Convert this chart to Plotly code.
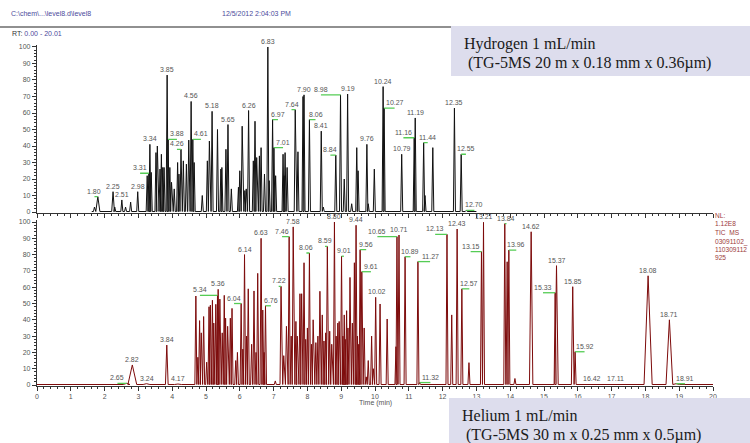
import plotly.graph_objects as go

# ---------------- DATA ----------------
# Hydrogen (top) chromatogram: retention time (min) and relative abundance (%)
top_rt = [1.70, 1.80, 2.25, 2.30, 2.51, 2.62, 2.77, 2.98, 3.26, 3.31, 3.34, 3.38, 3.52, 3.56, 3.64,
          3.68, 3.72, 3.76, 3.85, 3.88, 3.93, 3.98, 4.06, 4.16, 4.20, 4.26, 4.33, 4.42, 4.49, 4.56,
          4.61, 4.65, 4.89, 5.04, 5.10, 5.18, 5.34, 5.44, 5.47, 5.59, 5.65, 5.75, 5.96, 6.00, 6.07,
          6.15, 6.19, 6.26, 6.40, 6.45, 6.50, 6.58, 6.63, 6.73, 6.83, 6.87, 6.97, 7.01, 7.06, 7.28,
          7.31, 7.34, 7.40, 7.64, 7.72, 7.87, 7.90, 8.06, 8.41, 8.47, 8.84, 8.98, 9.09, 9.19, 9.31,
          9.46, 9.50, 9.76, 9.80, 9.98, 10.24, 10.27, 10.79, 11.16, 11.19, 11.44, 11.48, 11.71, 12.35,
          12.55, 12.70]
top_h = [3, 9.3, 12.3, 3, 7.3, 3, 6, 12.3, 22, 23.5, 41, 24, 36, 40, 26,
         35, 27, 27, 83, 44, 27, 18, 14, 30, 23, 38, 31, 29, 43.6, 67,
         44, 30, 10, 31, 43, 61, 50, 26, 27, 38, 53, 14, 15, 25, 52,
         13, 14, 61.5, 31, 55, 33, 34, 39, 23, 100, 19, 56, 39, 22, 35,
         22, 36, 27, 62, 36.5, 70, 71, 56, 49, 3, 34.5, 71, 20, 71.5, 5,
         39, 25, 41, 5, 26, 76, 63, 35, 45, 57, 42, 10, 39, 63,
         35, 1]
top_scan = [1.62, 13.0]

# Helium (bottom) chromatogram
bot_rt = [2.65, 2.82, 3.24, 3.84, 4.17, 4.70, 4.76, 4.81, 4.86, 4.93, 5.02, 5.09, 5.13, 5.19, 5.23,
          5.29, 5.34, 5.36, 5.41, 5.48, 5.54, 5.58, 5.64, 5.72, 5.77, 5.88, 5.93, 6.04, 6.09, 6.14,
          6.20, 6.25, 6.35, 6.42, 6.48, 6.53, 6.63, 6.68, 6.72, 6.76, 7.05, 7.22, 7.30, 7.38, 7.46,
          7.52, 7.58, 7.66, 7.70, 7.78, 7.83, 7.90, 7.95, 8.00, 8.06, 8.12, 8.17, 8.25, 8.31, 8.37,
          8.44, 8.49, 8.54, 8.59, 8.66, 8.72, 8.80, 8.85, 8.90, 8.94, 9.01, 9.05, 9.09, 9.12, 9.16,
          9.20, 9.26, 9.33, 9.39, 9.44, 9.48, 9.52, 9.56, 9.61, 9.68, 9.74, 9.80, 9.90, 9.95, 10.02,
          10.15, 10.36, 10.62, 10.65, 10.71, 10.89, 11.27, 11.32, 12.13, 12.27, 12.43, 12.57, 12.78,
          13.15, 13.21, 13.84, 13.91, 13.96, 14.14, 14.62, 15.33, 15.37, 15.85, 15.92, 16.42, 17.11,
          18.08, 18.71, 18.91]
bot_h = [1, 12.3, 0.8, 24.5, 0.6, 54.6, 17, 39.5, 32, 42, 14, 48, 49, 52, 38,
         49.5, 55, 58.7, 52.7, 32, 55, 41, 36, 41, 47, 15, 20, 50, 22, 80,
         30, 59, 25, 57.7, 20, 68.5, 90, 46, 20, 48.6, 2.5, 60.5, 18, 36, 91,
         30, 97, 39, 30, 56, 56, 75, 28, 35, 81, 25, 40, 26, 30, 57.5,
         43, 27, 32, 85, 33, 25, 100, 30, 38, 39, 79, 30, 43, 28, 45.6,
         35, 66, 38, 75, 98, 30, 25, 83, 69.5, 35, 5, 15, 30, 10, 53.8,
         49.7, 40.5, 23.5, 91, 92, 78.7, 75.7, 1.5, 92.4, 43, 95.7, 59, 13.7,
         81.8, 99.8, 99, 75.6, 82.8, 4, 94, 56.6, 73.2, 60.3, 20.4, 0.6, 0.6,
         67, 40, 0.8]
bot_scan = [0.0, 20.0]

# broad peaks: half width at base (min)
top_width = {1.80: 0.06, 2.25: 0.04}
bot_width = {2.82: 0.13, 3.24: 0.1, 4.17: 0.1, 3.84: 0.04, 14.62: 0.05, 15.37: 0.05,
             15.85: 0.04, 18.08: 0.12, 18.71: 0.1, 2.65: 0.1, 16.42: 0.1, 17.11: 0.1, 18.91: 0.1}

top_labels = ["1.80", "2.25", "2.51", "2.98", "3.31", "3.34", "3.85", "3.88", "4.26", "4.56", "4.61",
              "5.18", "5.65", "6.26", "6.83", "6.97", "7.01", "7.64", "7.90", "8.06", "8.41", "8.84",
              "8.98", "9.19", "9.76", "10.24", "10.27", "10.79", "11.16", "11.19", "11.44", "12.35",
              "12.55", "12.70"]
bot_labels = ["2.65", "2.82", "3.24", "3.84", "4.17", "5.34", "5.36", "6.04", "6.14", "6.63", "6.76",
              "7.22", "7.46", "7.58", "8.06", "8.59", "8.80", "9.01", "9.44", "9.56", "9.61", "10.02",
              "10.65", "10.71", "10.89", "11.27", "11.32", "12.13", "12.43", "12.57", "13.15", "13.21",
              "13.84", "13.96", "14.62", "15.33", "15.37", "15.85", "15.92", "16.42", "17.11", "18.08",
              "18.71", "18.91"]

x_ticks = list(range(0, 21))
y_ticks = list(range(0, 101, 10))

header_path = "C:\\chem\\...\\level8.d\\level8"
header_date = "12/5/2012 2:04:03 PM"
rt_range_text = "0.00 - 20.01"
nl_lines = ["NL:", "1.12E8", "TIC  MS", "03091102_", "110309112", "925"]
top_box = ["Hydrogen 1 mL/min", "(TG-5MS 20 m x 0.18 mm x 0.36µm)"]
bot_box = ["Helium 1 mL/min", "(TG-5MS 30 m x 0.25 mm x 0.5µm)"]

# ---------------- STYLE (label placement offsets, min) ----------------
top_dx = {"1.80": -0.1, "3.31": -0.26, "3.88": 0.26, "4.26": -0.12, "4.61": 0.24, "6.97": 0.16,
          "7.01": 0.27, "7.64": -0.11, "8.06": 0.18, "8.84": -0.16, "8.98": -0.58, "10.27": 0.31,
          "11.16": -0.32, "11.44": 0.12, "12.55": 0.14, "12.70": 0.24}
bot_dx = {"2.65": -0.27, "5.34": -0.52, "6.04": -0.21, "6.76": 0.16, "7.22": -0.07, "7.46": -0.21,
          "8.06": -0.09, "8.59": -0.07, "9.01": 0.07, "9.56": 0.18, "9.61": 0.27, "10.02": 0.04,
          "10.65": -0.58, "10.89": 0.16, "11.27": 0.36, "11.32": 0.32, "12.13": -0.35,
          "12.57": 0.22, "13.15": -0.32, "13.84": 0.05, "13.96": 0.22, "15.33": -0.36,
          "15.92": 0.28, "18.91": 0.26}

W, H = 750, 443
L = 37
R = 750 - 713
PW = W - L - R
BASE = 0.3
DEF_W = 0.03
LABEL_GRAY = "#555555"
GREEN = "#55cc55"


def px(xp):
    return (xp - L) / PW


def py(yp):
    return (H - yp) / H


def trace_points(rts, hs, widths, scan):
    xs, ys = [scan[0]], [BASE]
    for rt, h in sorted(zip(rts, hs)):
        w = widths.get(rt, DEF_W)
        xs += [rt - w, rt, rt + w]
        ys += [BASE, h, BASE]
    xs.append(scan[1])
    ys.append(BASE)
    return xs, ys


def height_of(label, rts, hs):
    v = float(label)
    i = min(range(len(rts)), key=lambda k: abs(rts[k] - v))
    return hs[i]


fig = go.Figure()

tx, ty = trace_points(top_rt, top_h, top_width, top_scan)
bx, by = trace_points(bot_rt, bot_h, bot_width, bot_scan)

fig.add_trace(go.Scatter(x=tx, y=ty, mode="lines", line=dict(color="#111111", width=1),
                         xaxis="x2", yaxis="y2", hoverinfo="skip", showlegend=False))
fig.add_trace(go.Scatter(x=bx, y=by, mode="lines", line=dict(color="#7d0b0b", width=1),
                         xaxis="x", yaxis="y", hoverinfo="skip", showlegend=False))

annotations = []


def add_labels(labels, rts, hs, dxs, xref, yref):
    gx, gy = [], []
    for lab in labels:
        v = float(lab)
        h = height_of(lab, rts, hs)
        dx = dxs.get(lab, 0.0)
        annotations.append(dict(x=v + dx, y=h, xref=xref, yref=yref, text=lab, showarrow=False,
                                yanchor="bottom", xanchor="center", yshift=0,
                                font=dict(family="Arial", size=7, color=LABEL_GRAY)))
        if abs(dx) >= 0.05:
            gx += [v + dx, v, None]
            gy += [h, h, None]
    return gx, gy


gx2, gy2 = add_labels(top_labels, top_rt, top_h, top_dx, "x2", "y2")
gx1, gy1 = add_labels(bot_labels, bot_rt, bot_h, bot_dx, "x", "y")
fig.add_trace(go.Scatter(x=gx2, y=gy2, mode="lines", line=dict(color=GREEN, width=1.3),
                         xaxis="x2", yaxis="y2", hoverinfo="skip", showlegend=False))
fig.add_trace(go.Scatter(x=gx1, y=gy1, mode="lines", line=dict(color=GREEN, width=1.3),
                         xaxis="x", yaxis="y", hoverinfo="skip", showlegend=False))

# header texts
hdr_color = "#4b4b9b"
annotations.append(dict(x=px(9), y=py(13), xref="paper", yref="paper", text=header_path,
                        showarrow=False, xanchor="left", yanchor="middle",
                        font=dict(family="Arial", size=7, color=hdr_color)))
annotations.append(dict(x=px(256), y=py(13), xref="paper", yref="paper", text=header_date,
                        showarrow=False, xanchor="center", yanchor="middle",
                        font=dict(family="Arial", size=7, color=hdr_color)))
annotations.append(dict(x=px(10), y=py(34), xref="paper", yref="paper",
                        text="RT: <span style='color:%s'>%s</span>" % (hdr_color, rt_range_text),
                        showarrow=False, xanchor="left", yanchor="middle",
                        font=dict(family="Arial", size=7, color="#333333")))

# NL block
nl_y = [215, 223.5, 233, 241.5, 249, 257]
for t, yy in zip(nl_lines, nl_y):
    annotations.append(dict(x=px(713), y=py(yy), xref="paper", yref="paper", text=t,
                            showarrow=False, xanchor="left", yanchor="middle",
                            font=dict(family="Arial", size=6.6, color="#9c3b3b")))

# axis title
annotations.append(dict(x=px(375), y=py(403), xref="paper", yref="paper", text="Time (min)",
                        showarrow=False, xanchor="center", yanchor="middle",
                        font=dict(family="Arial", size=7, color="#555555")))

# box texts
serif = dict(family="Liberation Serif", size=16, color="#1a1a1a")
annotations.append(dict(x=px(462), y=py(44), xref="paper", yref="paper", text=top_box[0],
                        showarrow=False, xanchor="left", yanchor="middle", font=serif))
annotations.append(dict(x=px(466), y=py(63), xref="paper", yref="paper", text=top_box[1],
                        showarrow=False, xanchor="left", yanchor="middle", font=serif))
annotations.append(dict(x=px(460), y=py(415), xref="paper", yref="paper", text=bot_box[0],
                        showarrow=False, xanchor="left", yanchor="middle", font=serif))
annotations.append(dict(x=px(464), y=py(435), xref="paper", yref="paper", text=bot_box[1],
                        showarrow=False, xanchor="left", yanchor="middle", font=serif))

box_fill = "#dddded"
shapes = [
    dict(type="line", xref="paper", yref="paper", x0=px(0), x1=px(750), y0=py(27), y1=py(27),
         line=dict(color="#222222", width=1.2), layer="below"),
    dict(type="rect", xref="paper", yref="paper", x0=px(451), x1=px(751), y0=py(76), y1=py(26),
         fillcolor=box_fill, line=dict(width=0), layer="above"),
    dict(type="rect", xref="paper", yref="paper", x0=px(449), x1=px(751), y0=py(444), y1=py(398),
         fillcolor=box_fill, line=dict(width=0), layer="above"),
]

# panel domains (0 -> 212px & 100 -> 47px top; 0 -> 385px & 100 -> 222px bottom)
y_lo, y_hi = -0.6, 101.5
top_dom = [py(212 + 0.6 * 1.65), py(212 - 101.5 * 1.65)]
bot_dom = [py(385 + 0.6 * 1.63), py(385 - 101.5 * 1.63)]

tickfont = dict(family="Arial", size=7, color="#555555")
axis_common = dict(showline=True, linecolor="#333333", linewidth=1.2, ticks="outside",
                   ticklen=4, tickwidth=1, tickcolor="#333333", showgrid=False, zeroline=False,
                   tickfont=tickfont)

fig.update_layout(
    width=W, height=H,
    margin=dict(l=L, r=R, t=0, b=0, autoexpand=False),
    paper_bgcolor="white", plot_bgcolor="rgba(0,0,0,0)",
    showlegend=False,
    xaxis=dict(domain=[0, 1], anchor="y", range=[0, 20], tickvals=x_ticks,
               minor=dict(dtick=0.2, ticks="outside", ticklen=2, tickcolor="#333333"),
               **axis_common),
    xaxis2=dict(domain=[0, 1], anchor="y2", range=[0, 20], tickvals=x_ticks, showticklabels=False,
                minor=dict(dtick=0.2, ticks="outside", ticklen=2, tickcolor="#333333"),
                **axis_common),
    yaxis=dict(domain=bot_dom, anchor="x", range=[y_lo, y_hi], tickvals=y_ticks,
               minor=dict(dtick=2, ticks="outside", ticklen=2, tickcolor="#333333"),
               **axis_common),
    yaxis2=dict(domain=top_dom, anchor="x2", range=[y_lo, y_hi], tickvals=y_ticks,
                minor=dict(dtick=2, ticks="outside", ticklen=2, tickcolor="#333333"),
                **axis_common),
    annotations=annotations,
    shapes=shapes,
)

# remove the browser's default 8px page margin so the figure sits at the window origin
fig.write_html("out.html", config={"displayModeBar": False},
               post_script="document.body.style.margin='0';document.body.style.overflow='hidden';")
